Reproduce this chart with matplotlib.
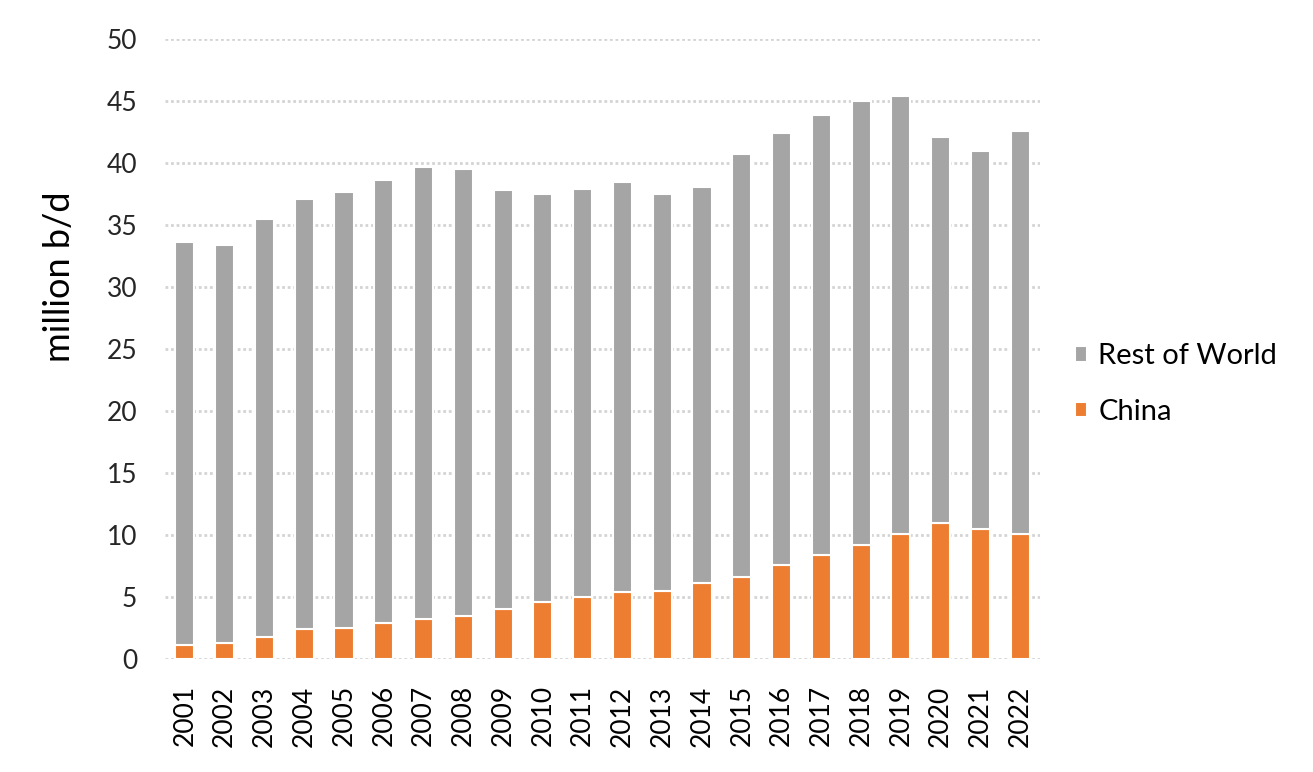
import numpy as np
import matplotlib.pyplot as plt

plt.rcParams['font.family'] = ['Lato', 'DejaVu Sans']

years = [str(y) for y in range(2001, 2023)]
china = [1.1, 1.3, 1.8, 2.4, 2.5, 2.9, 3.2, 3.5, 4.0, 4.6, 5.0,
         5.4, 5.5, 6.1, 6.6, 7.6, 8.4, 9.2, 10.1, 11.0, 10.5, 10.1]
rest_of_world = [32.5, 32.1, 33.7, 34.7, 35.2, 35.7, 36.5, 36.0, 33.8, 32.9, 32.9,
                 33.1, 32.0, 32.0, 34.1, 34.8, 35.5, 35.8, 35.3, 31.1, 30.5, 32.5]
yticks = list(range(0, 55, 5))

fig = plt.figure(figsize=(13.13, 7.72), dpi=100)
ax = fig.add_axes([0.1257, 0.1464, 0.6665, 0.8031])

x = np.arange(len(years))
b1 = ax.bar(x, china, width=0.48, color='#ed7d31', edgecolor='white', linewidth=1.5, zorder=3, label='China')
b2 = ax.bar(x, rest_of_world, width=0.48, bottom=china, color='#a5a5a5', edgecolor='white',
            linewidth=1.5, zorder=3, label='Rest of World')

ax.set_xlim(-0.5, len(years) - 0.5)
ax.set_ylim(0, 50)
ax.set_yticks(yticks)
ax.set_yticklabels([str(t) for t in yticks], fontsize=19, color='#262626')
ax.set_xticks(x)
ax.set_xticklabels(years, rotation=90, fontsize=19, color='#000000')
ax.tick_params(length=0)
ax.tick_params(axis='x', pad=19)
ax.tick_params(axis='y', pad=20)
ax.yaxis.grid(True, linestyle=(0, (1, 1)), color='#d4d4d4', linewidth=2, zorder=0)
ax.set_axisbelow(True)
for s in ax.spines.values():
    s.set_visible(False)

ax.set_ylabel('million b/d', fontsize=26, color='#000000')
ax.yaxis.set_label_coords(-0.102, 0.616)

ax.legend(handles=[b2, b1], loc='center left', bbox_to_anchor=(1.04, 0.4435), frameon=False,
          fontsize=21, handlelength=0.42, handleheight=0.42, handletextpad=0.38, labelspacing=1.0,
          borderaxespad=0, borderpad=0)

fig.savefig('out.png', dpi=100)
